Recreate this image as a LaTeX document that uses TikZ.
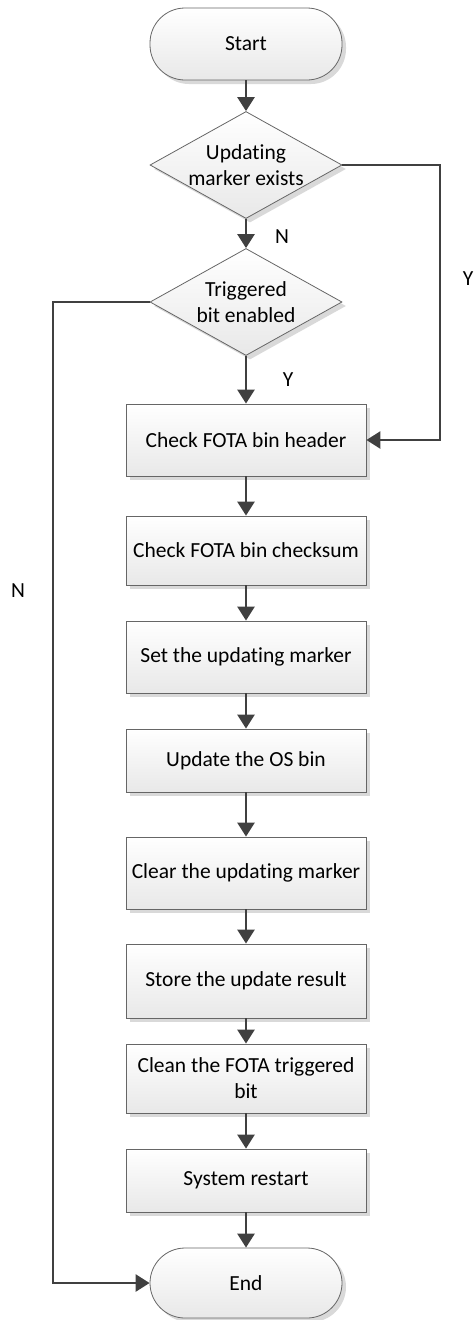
\documentclass[tikz,border=0pt]{standalone}
\usepackage{fontspec}
\setmainfont[Ligatures=NoCommon]{Carlito}
\usetikzlibrary{shapes.geometric,arrows.meta,shadows}
\begin{document}
\begin{tikzpicture}[x=1pt,y=-1pt,
  txt/.style={font=\fontsize{21.5}{26}\selectfont, align=center},
  base/.style={draw=black!60, line width=0.8pt, top color=white, bottom color=black!9,
    drop shadow={shadow xshift=4pt, shadow yshift=-4pt, fill=black!15, opacity=1},
    inner sep=0pt, txt},
  terminal/.style={base, rectangle, rounded corners=35pt, minimum width=192pt},
  decision/.style={base, diamond, minimum width=192pt, minimum height=107pt},
  process/.style={base, rectangle, minimum width=240pt},
  flow/.style={draw=black!75, line width=2.6pt, -{Triangle[width=17pt,length=14pt]}},
  lbl/.style={txt, inner sep=0pt}
]
\useasboundingbox (0,0) rectangle (475,1320);

\node[terminal, minimum height=72pt] (start) at (246,44) {Start};
\node[decision, label={[lbl]center:Updating\\marker exists}] (d1) at (246,165) {};
\node[decision, label={[lbl]center:Triggered\\bit enabled}] (d2) at (246,302) {};
\node[process, minimum height=72pt] (b1) at (246,440) {Check FOTA bin header};
\node[process, minimum height=69pt] (b2) at (246,550.5) {Check FOTA bin checksum};
\node[process, minimum height=72pt] (b3) at (246,657) {Set the updating marker};
\node[process, minimum height=63pt] (b4) at (246,760.5) {Update the OS bin};
\node[process, minimum height=72pt] (b5) at (246,873) {Clear the updating marker};
\node[process, minimum height=74pt] (b6) at (246,981) {Store the update result};
\node[process, minimum height=69pt] (b7) at (246,1078.5) {Clean the FOTA triggered\\bit};
\node[process, minimum height=63pt] (b8) at (246,1180.5) {System restart};
\node[terminal, minimum height=70pt] (end) at (246,1283) {End};

\coordinate (yr) at (440,165);
\coordinate (nl) at (53,302);

\draw[flow] (start) -- (d1);
\draw[flow] (d1) -- (d2);
\draw[flow] (d2) -- (b1);
\draw[flow] (d1.east) -- (yr) |- (b1.east);
\draw[flow] (d2.west) -- (nl) |- (end.west);
\draw[flow] (b1) -- (b2);
\draw[flow] (b2) -- (b3);
\draw[flow] (b3) -- (b4);
\draw[flow] (b4) -- (b5);
\draw[flow] (b5) -- (b6);
\draw[flow] (b6) -- (b7);
\draw[flow] (b7) -- (b8);
\draw[flow] (b8) -- (end);

\node[lbl] (ln1) at (282,237) {N};
\node[lbl] (ly1) at (288,380) {Y};
\node[lbl] (ly2) at (468,279) {Y};
\node[lbl] (ln2) at (18,591) {N};
\end{tikzpicture}
\end{document}
